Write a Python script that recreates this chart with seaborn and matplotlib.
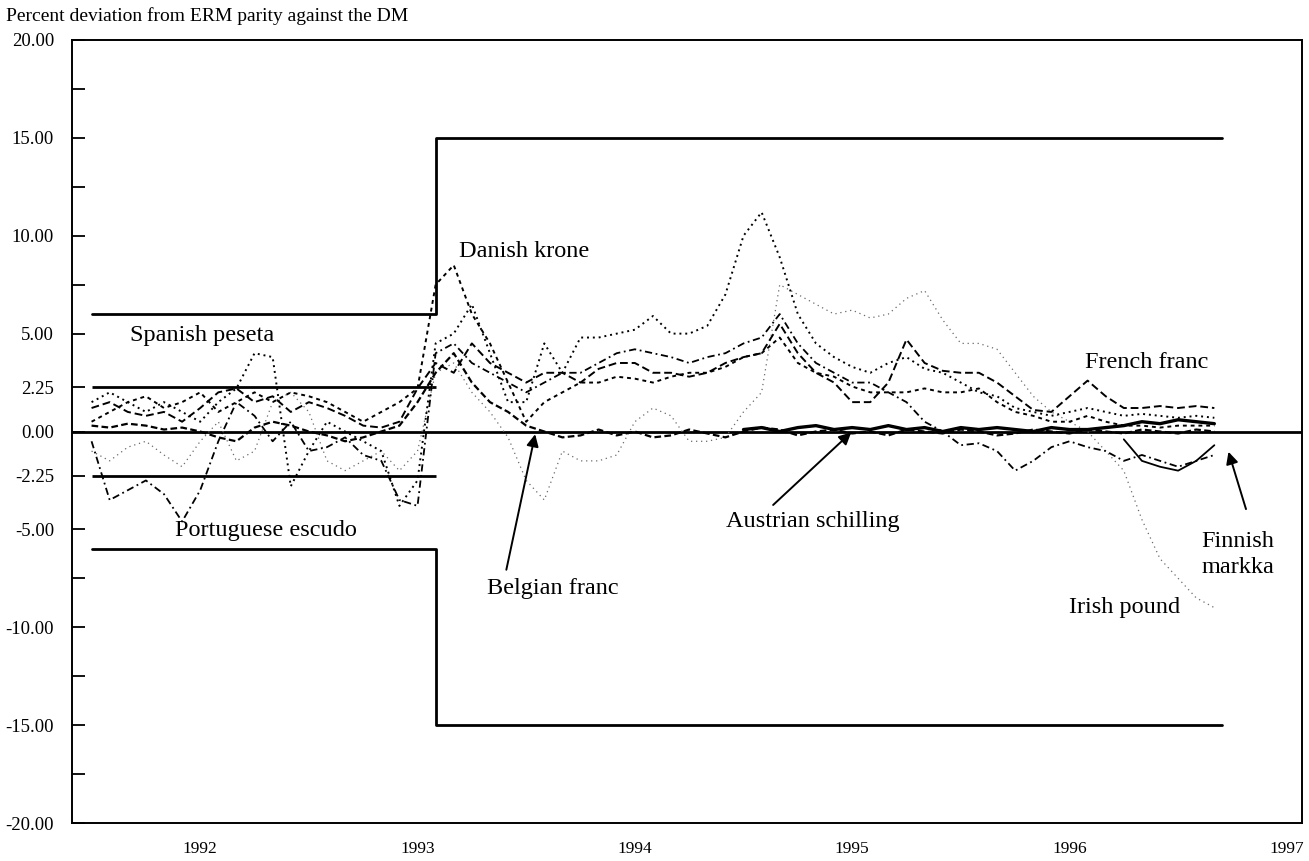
import numpy as np
import pandas as pd
import matplotlib
matplotlib.use("Agg")
import matplotlib.pyplot as plt
import seaborn as sns

# monthly observations, Jan 1992 .. Mar 1997 (63 months)
months = pd.date_range("1992-01-01", "1997-03-01", freq="MS")

peseta = [1.5, 2.0, 1.5, 1.0, 1.5, 1.0, 0.5, 1.5, 2.2, 4.0, 3.8, -2.8, -1.0, 0.5, 0.0, -0.5, -1.0, -3.8, -2.5,
          4.5, 5.0, 6.5, 4.0, 1.5, 1.5, 4.5, 3.0, 4.8, 4.8, 5.0, 5.2,
          5.9, 5.0, 5.0, 5.4, 7.0, 10.0, 11.2, 8.9, 6.0, 4.5, 3.8, 3.3,
          3.0, 3.5, 3.8, 3.2, 3.0, 2.5, 2.0, 1.8, 1.2, 1.0, 0.8, 1.0,
          1.2, 1.0, 0.8, 0.9, 0.8, 0.7, 0.8, 0.7]
escudo = [-0.5, -3.5, -3.0, -2.5, -3.2, -4.6, -3.0, -0.5, 1.5, 0.8, -0.5, 0.5, -1.0, -0.8, -0.3, -1.2, -1.5, -3.5, -3.8,
          4.0, 4.5, 3.5, 3.0, 2.5, 2.0, 2.5, 3.0, 3.0, 3.5, 4.0, 4.2,
          4.0, 3.8, 3.5, 3.8, 4.0, 4.5, 4.8, 6.0, 4.5, 3.5, 3.0, 2.5,
          2.5, 2.0, 1.5, 0.5, 0.0, -0.7, -0.6, -1.0, -2.0, -1.5, -0.8, -0.5,
          -0.8, -1.0, -1.5, -1.2, -1.5, -1.8, -1.5, -1.2]
krone = [0.5, 1.0, 1.5, 1.8, 1.2, 1.5, 2.0, 1.0, 1.5, 2.0, 1.5, 2.0, 1.8, 1.5, 1.0, 0.5, 1.0, 1.5, 2.2,
         7.5, 8.5, 6.0, 4.5, 2.5, 0.5, 1.5, 2.0, 2.5, 2.5, 2.8, 2.7,
         2.5, 2.8, 3.0, 3.0, 3.3, 3.8, 4.0, 4.8, 3.5, 3.0, 2.8, 2.3,
         2.0, 2.0, 2.0, 2.2, 2.0, 2.0, 2.2, 1.5, 1.0, 0.8, 0.5, 0.5,
         0.8, 0.5, 0.3, 0.3, 0.2, 0.3, 0.3, 0.3]
ffranc = [1.2, 1.5, 1.0, 0.8, 1.0, 0.5, 1.2, 2.0, 2.2, 1.5, 1.8, 1.0, 1.5, 1.2, 0.8, 0.3, 0.2, 0.5, 2.2,
          3.5, 3.0, 4.5, 3.5, 3.0, 2.5, 3.0, 3.0, 2.5, 3.2, 3.5, 3.5,
          3.0, 3.0, 2.8, 3.0, 3.5, 3.8, 4.0, 5.5, 4.0, 3.0, 2.5, 1.5,
          1.5, 2.5, 4.7, 3.5, 3.1, 3.0, 3.0, 2.5, 1.8, 1.1, 1.0, 1.8,
          2.6, 1.8, 1.2, 1.2, 1.3, 1.2, 1.3, 1.2]
bfranc = [0.3, 0.2, 0.4, 0.3, 0.1, 0.2, 0.0, -0.3, -0.5, 0.2, 0.5, 0.3, 0.0, -0.2, -0.5, -0.3, 0.0, 0.3, 1.5,
          3.0, 4.0, 2.5, 1.5, 1.0, 0.3, 0.0, -0.3, -0.2, 0.1, -0.2, 0.0,
          -0.3, -0.2, 0.1, -0.1, -0.3, 0.0, 0.2, 0.1, -0.2, 0.0, 0.1, -0.1,
          0.0, -0.2, 0.1, 0.0, -0.1, 0.1, 0.0, -0.2, -0.1, 0.1, 0.0, -0.1,
          0.1, 0.0, -0.1, 0.1, 0.0, -0.1, 0.1, 0.0]
punt = [-1.0, -1.5, -0.8, -0.5, -1.2, -1.8, -0.5, 0.5, -1.5, -1.0, 1.5, 2.0, 1.0, -1.5, -2.0, -1.5, -1.0, -2.0, -1.0,
        3.0, 3.5, 2.0, 1.0, -0.3, -2.5, -3.5, -1.0, -1.5, -1.5, -1.2, 0.5,
        1.2, 0.8, -0.5, -0.5, -0.3, 1.0, 2.0, 7.5, 7.0, 6.5, 6.0, 6.2,
        5.8, 6.0, 6.8, 7.2, 5.7, 4.5, 4.5, 4.2, 3.0, 1.8, 1.0, 0.5,
        0.0, -1.0, -2.0, -4.5, -6.5, -7.5, -8.5, -9.0]
# Austria from Jan 1995, Finland from Oct 1996
schilling = [0.1, 0.2, 0.0, 0.2, 0.3, 0.1, 0.2, 0.1, 0.3, 0.1, 0.2, 0.0, 0.2, 0.1,
             0.2, 0.1, 0.0, 0.2, 0.1, 0.1, 0.2, 0.3, 0.5, 0.4, 0.6, 0.5, 0.4]
markka = [-0.4, -1.5, -1.8, -2.0, -1.5, -0.7]

# fluctuation bands
band_dates = [1992.0, 1993.585, 1997.2]
wide_band = [6.0, 15.0, 15.0]
narrow_band = 2.25

yticks = [20, 15, 10, 5, 2.25, 0, -2.25, -5, -10, -15, -20]
minor_yticks = [17.5, 12.5, 7.5, -7.5, -12.5, -17.5]
years = [1992, 1993, 1994, 1995, 1996, 1997]


def frac_year(d):
    return d.year + (d.month - 1) / 12.0


t = np.array([frac_year(d) for d in months])

sns.set_style("white")
plt.rcParams["font.family"] = ["Liberation Serif", "DejaVu Serif"]
plt.rcParams["text.color"] = "black"
plt.rcParams["xtick.color"] = "black"
plt.rcParams["ytick.color"] = "black"

fig = plt.figure(figsize=(13.09, 8.61), dpi=100)
ax = fig.add_axes([72 / 1309, 38 / 861, 1230 / 1309, 783 / 861])

# bands
ax.step(band_dates, wide_band, where="post", color="black", lw=2.0)
ax.step(band_dates, [-v for v in wide_band], where="post", color="black", lw=2.0)
ax.hlines([narrow_band, -narrow_band], band_dates[0], band_dates[1], color="black", lw=2.0)
ax.axhline(0, color="black", lw=2.0)

series = [
    (punt, t, dict(color="#6a6a6a", lw=0.9, linestyle=(0, (1, 3)))),
    (peseta, t, dict(color="black", lw=1.4, linestyle=(0, (1, 2)))),
    (escudo, t, dict(color="black", lw=1.3, linestyle=(0, (4, 2, 1, 2)))),
    (krone, t, dict(color="black", lw=1.4, linestyle=(0, (2, 2)))),
    (ffranc, t, dict(color="black", lw=1.4, linestyle=(0, (4, 2)))),
    (bfranc, t, dict(color="black", lw=1.6, linestyle=(0, (3, 1.5)))),
    (schilling, t[36:], dict(color="black", lw=2.4, linestyle="-")),
    (markka, t[57:], dict(color="black", lw=1.3, linestyle="-")),
]
for vals, xs, kw in series:
    sns.lineplot(x=xs, y=vals, ax=ax, legend=False, **kw)

ax.set_xlim(1991.91, 1997.57)
ax.set_ylim(-20, 20)
ax.set_yticks(yticks)
ax.set_yticklabels([f"{v:.2f}" for v in yticks])
ax.set_yticks(minor_yticks, minor=True)
ax.set_xticks([y + 0.5 for y in years])
ax.set_xticklabels([str(y) for y in years])
ax.tick_params(axis="y", which="both", direction="in", length=9, width=1.3, left=True, labelsize=13.5, pad=13)
ax.tick_params(axis="x", length=0, labelsize=12.5, pad=13)
for s in ax.spines.values():
    s.set_color("black")
    s.set_linewidth(1.4)
ax.set_xlabel("")
ax.set_ylabel("")

fig.text(6 / 1309, 1 - 21 / 861, "Percent deviation from ERM parity against the DM",
         fontsize=14, va="baseline", ha="left")

lab = dict(fontsize=17.5, va="center", ha="left")
ax.text(1993.689, 9.2, "Danish krone", **lab)
ax.text(1992.177, 4.9, "Spanish peseta", **lab)
ax.text(1992.385, -5.05, "Portuguese escudo", **lab)
ax.text(1993.82, -8.0, "Belgian franc", **lab)
ax.text(1994.92, -4.6, "Austrian schilling", **lab)
ax.text(1996.57, 3.55, "French franc", **lab)
ax.text(1996.5, -9.0, "Irish pound", **lab)
ax.text(1997.108, -6.3, "Finnish\nmarkka", linespacing=1.3, **lab)

arrow = dict(arrowstyle="-|>", color="black", lw=1.4, mutation_scale=18)
ax.annotate("", xy=(1994.044, 0.0), xytext=(1993.906, -7.2), arrowprops=arrow)
ax.annotate("", xy=(1995.505, 0.05), xytext=(1995.127, -3.85), arrowprops=arrow)
ax.annotate("", xy=(1997.228, -0.9), xytext=(1997.316, -4.1), arrowprops=arrow)

fig.savefig("out.png", dpi=100)
